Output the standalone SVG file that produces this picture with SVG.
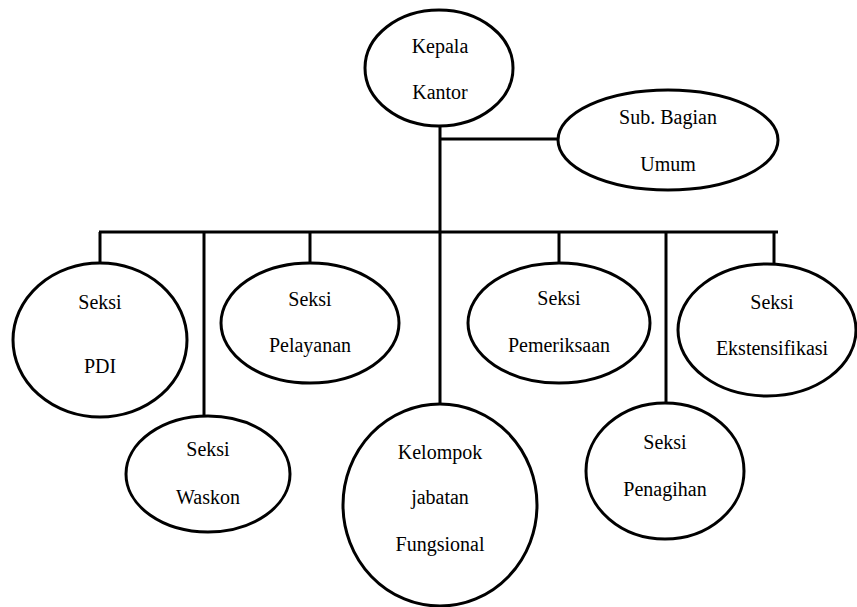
<svg xmlns="http://www.w3.org/2000/svg" width="857" height="607" viewBox="0 0 857 607">
<style>
.n ellipse{fill:#fff;stroke:#000;stroke-width:3}
text{font-family:'Liberation Serif','Times New Roman',serif;font-size:20px;text-anchor:middle;fill:#000}
#connectors path{stroke:#000;stroke-width:3;fill:none}
</style>
<rect width="857" height="607" fill="#fff"/>
<g id="connectors">
<path d="M440 126V403"/>
<path d="M440 139H558"/>
<path d="M99 232H778"/>
<path d="M100 232V263"/>
<path d="M204 232V417"/>
<path d="M310 232V263"/>
<path d="M559 232V263"/>
<path d="M666 232V403"/>
<path d="M774 232V264"/>
</g>
<g id="kepala" class="n"><ellipse cx="439" cy="68" rx="74" ry="58"/><text x="440" y="53">Kepala</text><text x="440" y="99">Kantor</text></g>
<g id="subbagian" class="n"><ellipse cx="668" cy="140" rx="110" ry="50"/><text x="668" y="124">Sub. Bagian</text><text x="668" y="171">Umum</text></g>
<g id="pdi" class="n"><ellipse cx="100" cy="340" rx="87" ry="77"/><text x="100" y="309">Seksi</text><text x="100" y="373">PDI</text></g>
<g id="pelayanan" class="n"><ellipse cx="310" cy="323" rx="89" ry="60"/><text x="310" y="306">Seksi</text><text x="310" y="352">Pelayanan</text></g>
<g id="waskon" class="n"><ellipse cx="208" cy="474" rx="82" ry="58"/><text x="208" y="456">Seksi</text><text x="208" y="504">Waskon</text></g>
<g id="kelompok" class="n"><ellipse cx="440" cy="505" rx="97" ry="101"/><text x="440" y="459">Kelompok</text><text x="440" y="504">jabatan</text><text x="440" y="551">Fungsional</text></g>
<g id="pemeriksaan" class="n"><ellipse cx="559" cy="323" rx="91" ry="60"/><text x="559" y="305">Seksi</text><text x="559" y="352">Pemeriksaan</text></g>
<g id="penagihan" class="n"><ellipse cx="665" cy="471" rx="79" ry="68"/><text x="665" y="449">Seksi</text><text x="665" y="496">Penagihan</text></g>
<g id="ekstensifikasi" class="n"><ellipse cx="767" cy="330" rx="89" ry="66"/><text x="772" y="309">Seksi</text><text x="772" y="355">Ekstensifikasi</text></g>
</svg>
